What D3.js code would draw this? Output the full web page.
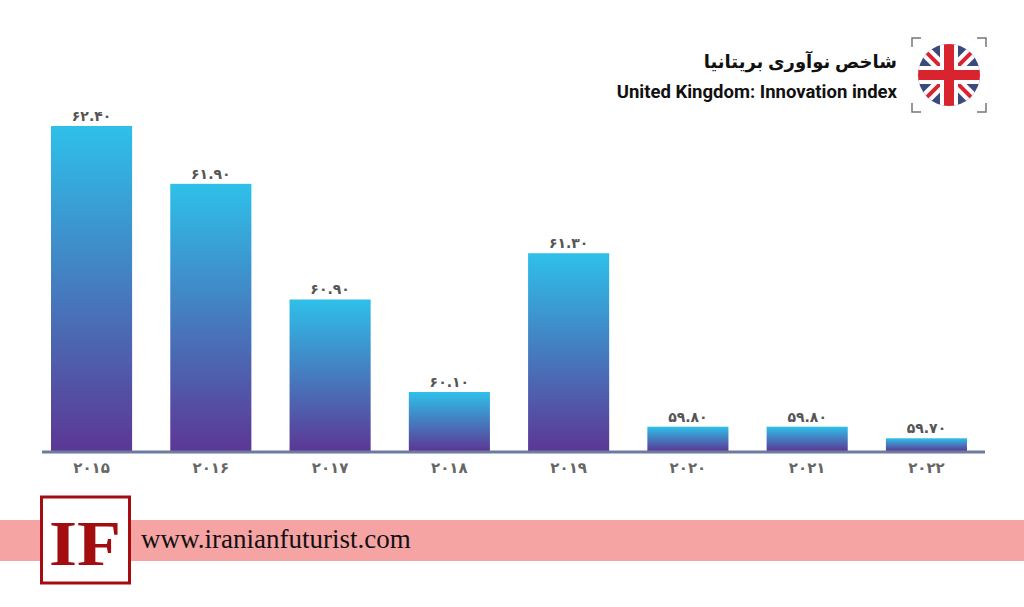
<!DOCTYPE html>
<html><head><meta charset="utf-8">
<script src="https://cdn.jsdelivr.net/npm/d3@7"></script>
<style>body{margin:0;background:#fff}svg{display:block}</style>
</head><body><div id="plot"></div>
<script>
const years = ["۲۰۱۵","۲۰۱۶","۲۰۱۷","۲۰۱۸","۲۰۱۹","۲۰۲۰","۲۰۲۱","۲۰۲۲"];
const values = [62.4, 61.9, 60.9, 60.1, 61.3, 59.8, 59.8, 59.7];
const valueLabels = ["۶۲.۴۰","۶۱.۹۰","۶۰.۹۰","۶۰.۱۰","۶۱.۳۰","۵۹.۸۰","۵۹.۸۰","۵۹.۷۰"];

const width = 1024, height = 607;
const svg = d3.select("#plot").append("svg").attr("width", width).attr("height", height);
const defs = svg.append("defs");
const g = defs.append("linearGradient").attr("id","bg").attr("x1",0).attr("y1",0).attr("x2",0).attr("y2",1);
g.append("stop").attr("offset","0%").attr("stop-color","#2ec0e9");
g.append("stop").attr("offset","100%").attr("stop-color","#5c3795");

const x = d3.scaleBand().domain(years).range([51, 967]).paddingInner(0.32).paddingOuter(0);
const y = d3.scaleLinear().domain([59.59, 62.4]).range([451, 126]);

svg.selectAll("rect.bar").data(values).enter().append("rect")
  .attr("x", (d,i) => x(years[i])).attr("width", x.bandwidth())
  .attr("y", d => y(d)).attr("height", d => 451 - y(d))
  .attr("fill", "url(#bg)");

svg.append("line").attr("x1",42).attr("x2",985).attr("y1",452).attr("y2",452)
  .attr("stroke","#6f7aa0").attr("stroke-width",3);

svg.selectAll("text.val").data(values).enter().append("text")
  .attr("x", (d,i) => x(years[i]) + x.bandwidth()/2).attr("y", d => y(d) - 5)
  .attr("text-anchor","middle").attr("font-family","DejaVu Sans").attr("font-weight","bold")
  .attr("font-size",14).attr("fill","#555").text((d,i) => valueLabels[i]);

const xAxis = svg.append("g").attr("transform","translate(0,452)")
  .call(d3.axisBottom(x).tickSize(0).tickPadding(10));
xAxis.select(".domain").remove();
xAxis.selectAll("text").attr("font-family","DejaVu Sans").attr("font-weight","bold")
  .attr("font-size",15).attr("fill","#666");

// header
svg.append("text").attr("x",897).attr("y",68).attr("text-anchor","end")
  .attr("font-family","Noto Sans, DejaVu Sans").attr("font-weight","bold").attr("font-size",18)
  .attr("fill","#111").text("شاخص نوآوری بریتانیا");
svg.append("text").attr("x",897).attr("y",98).attr("text-anchor","end")
  .attr("font-family","Roboto").attr("font-weight","bold").attr("font-size",18.5)
  .attr("fill","#111").text("United Kingdom: Innovation index");

// flag
const fx = 949, fy = 75, fr = 31;
const fl = svg.append("g");
defs.append("clipPath").attr("id","fc").append("circle").attr("cx",fx).attr("cy",fy).attr("r",fr);
const fg = fl.append("g").attr("clip-path","url(#fc)");
fg.append("rect").attr("x",fx-fr).attr("y",fy-fr).attr("width",2*fr).attr("height",2*fr).attr("fill","#3b4a7e");
[[-1,-1,1,1],[-1,1,1,-1]].forEach(([a,b,c,d]) => {
  fg.append("line").attr("x1",fx+a*fr).attr("y1",fy+b*fr).attr("x2",fx+c*fr).attr("y2",fy+d*fr).attr("stroke","#fff").attr("stroke-width",12);
  fg.append("line").attr("x1",fx+a*fr).attr("y1",fy+b*fr).attr("x2",fx+c*fr).attr("y2",fy+d*fr).attr("stroke","#d9232e").attr("stroke-width",4);
});
fg.append("rect").attr("x",fx-9).attr("y",fy-fr).attr("width",18).attr("height",2*fr).attr("fill","#fff");
fg.append("rect").attr("x",fx-fr).attr("y",fy-9).attr("width",2*fr).attr("height",18).attr("fill","#fff");
fg.append("rect").attr("x",fx-5).attr("y",fy-fr).attr("width",10).attr("height",2*fr).attr("fill","#d9232e");
fg.append("rect").attr("x",fx-fr).attr("y",fy-5).attr("width",2*fr).attr("height",10).attr("fill","#d9232e");
const b = 37, l = 9;
[[-1,-1],[1,-1],[-1,1],[1,1]].forEach(([sx,sy]) => {
  fl.append("path").attr("d",`M${fx+sx*b},${fy+sy*(b-l)}V${fy+sy*b}H${fx+sx*(b-l)}`)
    .attr("fill","none").attr("stroke","#777").attr("stroke-width",1.5);
});

// footer
svg.append("rect").attr("x",0).attr("y",520).attr("width",width).attr("height",41).attr("fill","#f6a3a3");
svg.append("rect").attr("x",41.5).attr("y",497).attr("width",88).attr("height",86).attr("fill","#fff")
  .attr("stroke","#a30d10").attr("stroke-width",3);
svg.append("text").attr("x",85).attr("y",565).attr("text-anchor","middle")
  .attr("font-family","Liberation Serif").attr("font-weight","bold").attr("font-size",64)
  .attr("fill","#a30d10").attr("textLength",72).attr("lengthAdjust","spacingAndGlyphs").text("IF");
svg.append("text").attr("x",141).attr("y",548).attr("font-family","Liberation Serif")
  .attr("font-size",27).attr("fill","#111").text("www.iranianfuturist.com");
</script></body></html>
